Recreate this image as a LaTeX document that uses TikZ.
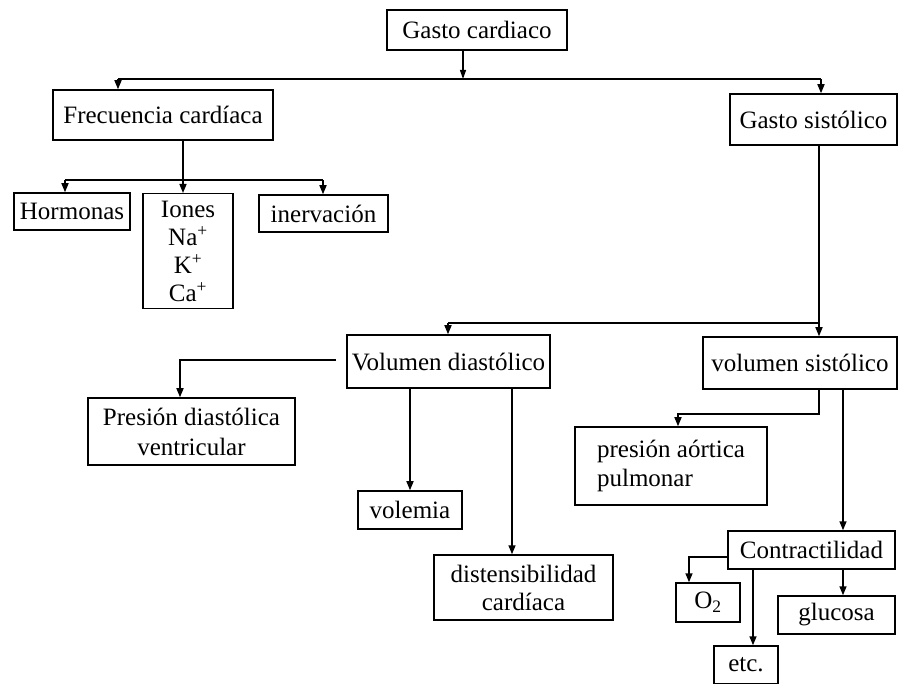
\documentclass[tikz,border=0pt]{standalone}
\usepackage{fontspec}
\setmainfont{Liberation Serif}
\usetikzlibrary{arrows.meta}
\begin{document}
\begin{tikzpicture}[x=1pt,y=-1pt,
  box/.style={draw, line width=1.5pt, inner sep=1pt, align=center,
    font=\fontsize{25}{28}\selectfont},
  conn/.style={line width=1.5pt},
  arr/.style={line width=1.5pt, -{Triangle[width=7pt,length=9pt]}}]
\useasboundingbox (0,0) rectangle (900,684);
\fill[white] (0,0) rectangle (900,684);
% boxes
\node[box, minimum width=180, minimum height=40] (gc) at (477,30) {Gasto cardiaco};
\node[box, minimum width=220, minimum height=50] (fc) at (163,115) {Frecuencia cardíaca};
\node[box, minimum width=167, minimum height=51] (gs) at (813.5,119.5) {Gasto sistólico};
\node[box, minimum width=116, minimum height=37] (hor) at (72,211.5) {Hormonas};
\node[box, minimum width=90, minimum height=115, anchor=north] (ion) at (188,193) {Iones\\Na\textsuperscript{+}\\K\textsuperscript{+}\\Ca\textsuperscript{+}};
\node[box, minimum width=129, minimum height=37] (inv) at (323.5,213.5) {inervación};
\node[box, minimum width=203, minimum height=53] (vd) at (448.5,361.5) {Volumen diastólico};
\node[box, minimum width=194, minimum height=52] (vs) at (800,363) {volumen sistólico};
\node[box, minimum width=207, minimum height=67, font=\fontsize{25}{30}\selectfont] (pdv) at (191.5,431.5) {Presión diastólica\\ventricular};
\node[box, minimum width=104, minimum height=38] (vol) at (410,510) {volemia};
\node[box, minimum width=179, minimum height=65] (dis) at (523.5,587.5) {distensibilidad\\cardíaca};
\node[box, minimum width=192, minimum height=78, align=left, font=\fontsize{25}{29}\selectfont] (pao) at (671,466) {presión aórtica\\pulmonar};
\node[box, minimum width=167, minimum height=38] (con) at (811.5,550) {Contractilidad};
\node[box, minimum width=64, minimum height=39] (o2) at (708,602.5) {O\textsubscript{2}};
\node[box, minimum width=64, minimum height=38] (etc) at (746,665) {etc.};
\node[box, minimum width=117, minimum height=38] (glu) at (836.5,615) {glucosa};
% junction coordinates
\coordinate (j1) at (463,79);
\coordinate (jL) at (118,79);
\coordinate (jR) at (821,79);
\coordinate (f1) at (183,180);
\coordinate (fL) at (65,180);
\coordinate (fR) at (323,180);
\coordinate (k) at (819,323);
\coordinate (kL) at (448,323);
\coordinate (p1) at (336,360);
\coordinate (p2) at (180,360);
\coordinate (d1) at (512,0);
\coordinate (a1) at (819,414);
\coordinate (a2) at (678,414);
\coordinate (c1) at (843,0);
\coordinate (o1) at (728,557);
\coordinate (o3) at (689,557);
\coordinate (e1) at (753,0);
% connectors
\draw[line width=1.2pt, -{Triangle[width=6pt,length=9pt]}] (gc.south -| j1) -- (j1);
\draw[conn] (jL) -- (jR);
\draw[arr] (jL) -- (jL |- fc.north);
\draw[arr] (jR) -- (jR |- gs.north);
\draw[conn] (k |- gs.south) -- (k);
\draw[conn] (k) -- (kL);
\draw[arr] (k) -- (k |- vs.north);
\draw[arr] (kL) -- (kL |- vd.north);
\draw[conn] (f1 |- fc.south) -- (f1);
\draw[conn] (fL) -- (fR);
\draw[arr] (fL) -- (fL |- hor.north);
\draw[arr] (f1) -- (f1 |- ion.north);
\draw[arr] (fR) -- (fR |- inv.north);
\draw[arr] (p1) -- (p2) -- (p2 |- pdv.north);
\draw[arr] (vol.north |- vd.south) -- (vol.north);
\draw[arr] (d1 |- vd.south) -- (d1 |- dis.north);
\draw[arr] (a1 |- vs.south) -- (a1) -- (a2) -- (a2 |- pao.north);
\draw[arr] (c1 |- vs.south) -- (c1 |- con.north);
\draw[arr] (o1) -- (o3) -- (o3 |- o2.north);
\draw[arr] (e1 |- con.south) -- (e1 |- etc.north);
\draw[arr] (c1 |- con.south) -- (c1 |- glu.north);
\end{tikzpicture}
\end{document}
